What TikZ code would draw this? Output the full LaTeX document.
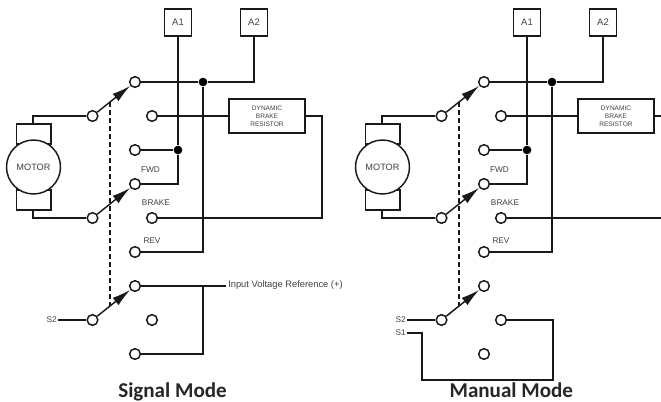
\documentclass[tikz,border=0pt]{standalone}
\usepackage{fontspec}
\setmainfont{Liberation Sans}
\newfontfamily\capfont{Carlito}
\usetikzlibrary{arrows.meta,calc}
\definecolor{txt}{gray}{0.25}
\definecolor{wire}{gray}{0.1}
\tikzset{
  x=0.75pt,y=-0.75pt,
  wireline/.style={draw=wire,line width=1.1pt,line join=miter},
  contact/.style={circle,draw=wire,line width=1.1pt,fill=white,minimum size=8pt,inner sep=0pt},
  junction/.style={circle,fill=black,minimum size=6.5pt,inner sep=0pt},
  termbox/.style={rectangle,draw=wire,line width=1.1pt,fill=white,minimum size=20pt,inner sep=0pt,text=txt,font=\fontsize{7.1}{8}\selectfont},
  resbox/.style={rectangle,draw=wire,line width=1.1pt,fill=white,minimum width=57pt,minimum height=25.5pt,inner sep=0pt,align=center,text=txt,font=\fontsize{4.9}{6}\selectfont},
  motorbody/.style={circle,draw=wire,line width=1.1pt,fill=white,minimum size=40.5pt,inner sep=0pt,text=txt,font=\fontsize{6.9}{8}\selectfont},
  brush/.style={rectangle,draw=wire,line width=1.1pt,fill=white,minimum width=25.9pt,minimum height=15pt,inner sep=0pt},
  lbl/.style={inner sep=0.8pt,text=txt,font=\fontsize{6.2}{8}\selectfont},
  reflbl/.style={inner sep=1.5pt,text=txt,font=\fontsize{7}{8}\selectfont},
  poleline/.style={wireline,-{Latex[length=14pt,width=7pt]}},
  linkage/.style={draw=wire,line width=1.1pt,dash pattern=on 4pt off 2pt},
  modecap/.style={inner sep=0pt,anchor=base,text=black!85,font=\capfont\bfseries\fontsize{15.8}{18}\selectfont}
}
\newcommand{\commonpart}{
  \node[termbox] (A1) at (178,22.5) {A1};
  \node[termbox] (A2) at (254,22.5) {A2};
  \node[brush] (brushT) at (33.5,134) {};
  \node[brush] (brushB) at (33.5,200) {};
  \node[motorbody] (motor) at (33.5,167) {MOTOR};
  \node[contact] (p1) at (92.5,116) {};
  \node[contact] (p2) at (92.5,218) {};
  \node[contact] (p3) at (92.5,320) {};
  \node[contact] (t1) at (135,82) {};
  \node[contact] (t2) at (152,116) {};
  \node[contact] (t3) at (135,150) {};
  \node[contact] (t4) at (135,184) {};
  \node[contact] (t5) at (152,218) {};
  \node[contact] (t6) at (135,252) {};
  \node[contact] (t7) at (135,286) {};
  \node[contact] (t8) at (152,320) {};
  \node[contact] (t9) at (135,354) {};
  \node[junction] (j1) at (203,82) {};
  \node[junction] (j2) at (178,150) {};
  \node[resbox] (res) at (267,116) {DYNAMIC\\BRAKE\\RESISTOR};
  \node[lbl] (fwd) at (150.5,170) {FWD};
  \node[lbl] (brk) at (156,203) {BRAKE};
  \node[lbl] (rev) at (152,241) {REV};
  \coordinate (mt) at (33,124.5);
  \coordinate (mb) at (33,209.5);
  \draw[wireline] (mt) |- (p1);
  \draw[wireline] (mb) |- (p2);
  \draw[poleline] (p1) -- (t1);
  \draw[poleline] (p2) -- (t4);
  \draw[poleline] (p3) -- (t7);
  \draw[linkage] ($(p1)!0.41!(t1)$) coordinate (lk1) -- ($(p3)!0.41!(t7)$) coordinate (lk2);
  \draw[wireline] (A1) -- (j2) -- (j2 |- t4) -- (t4);
  \draw[wireline] (t3) -- (j2);
  \draw[wireline] (t1) -- (j1) -- (j1 -| A2) -- (A2);
  \draw[wireline] (j1) -- (j1 |- t6) -- (t6);
  \draw[wireline] (t2) -- (res);
}
\begin{document}
\begin{tikzpicture}
\useasboundingbox (0,0) rectangle (661,401);
\begin{scope}[name prefix=L-]
  \commonpart
  \coordinate (rc) at (322,116);
  \draw[wireline] (res) -- (rc) -- (rc |- t5) -- (t5);
  \node[lbl,anchor=east] (s2) at (58,320) {S2};
  \draw[wireline] (s2) -- (p3);
  \node[reflbl,anchor=west] (ivr) at (226,285.5) {Input Voltage Reference (+)};
  \coordinate (j3) at (203,286);
  \draw[wireline] (t7) -- (ivr.west |- t7);
  \draw[wireline] (j3) |- (t9);
  \node[modecap] (capL) at (172.5,397.5) {Signal Mode};
\end{scope}
\begin{scope}[shift={(349,0)},name prefix=R-]
  \commonpart
  \coordinate (e1) at (312,116);
  \coordinate (e2) at (312,218);
  \draw[wireline] (res) -- (e1);
  \draw[wireline] (t5) -- (e2);
  \node[lbl,anchor=east] (s2) at (58,320) {S2};
  \draw[wireline] (s2) -- (p3);
  \node[lbl,anchor=east] (s1) at (58,333) {S1};
  \coordinate (c1) at (73,333);
  \coordinate (c2) at (73,380);
  \coordinate (c3) at (204,380);
  \coordinate (c4) at (204,320);
  \draw[wireline] (s1) -- (c1) -- (c2) -- (c3) -- (c4) -- (t8);
  \node[modecap] (capR) at (162.3,397.5) {Manual Mode};
\end{scope}
\end{tikzpicture}
\end{document}
